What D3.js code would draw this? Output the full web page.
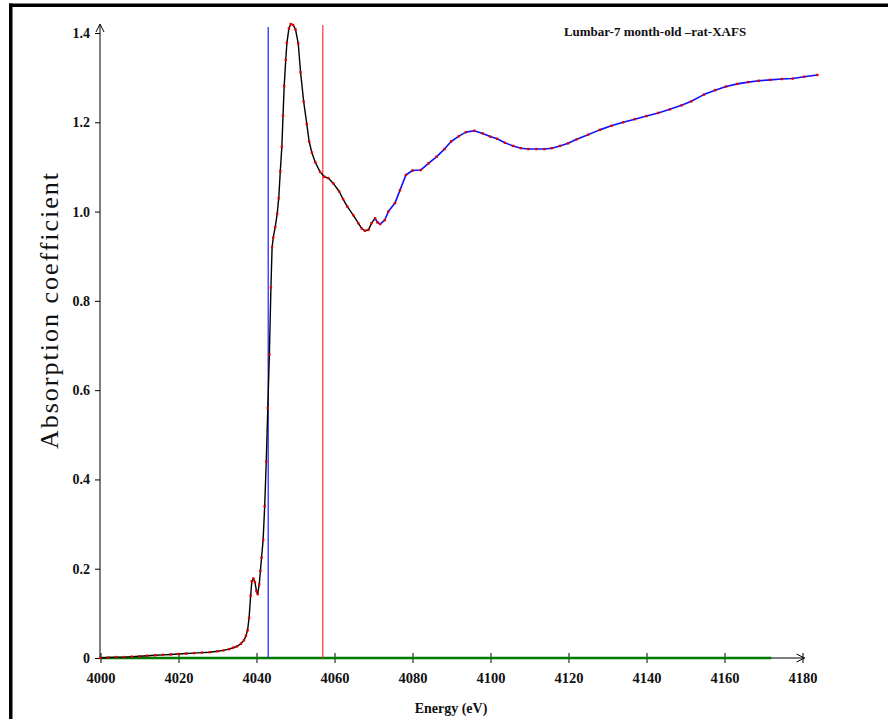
<!DOCTYPE html>
<html lang="en">
<head>
<meta charset="utf-8">
<script src="https://d3js.org/d3.v7.min.js"></script>
<style>
  body { margin: 0; background: #fff; }
  svg text { font-family: "Liberation Serif", "DejaVu Serif", serif; }
</style>
</head>
<body>
<div id="chart"></div>
<script>
// energy (eV) and absorption
var energy = [4000.0, 4002.0, 4004.0, 4006.0, 4008.0, 4010.0, 4012.0, 4014.0, 4016.0, 4018.0,
  4020.0, 4022.0, 4024.0, 4026.0, 4028.0, 4030.0, 4031.5, 4033.0, 4034.0, 4035.0,
  4036.0, 4036.8, 4037.3, 4037.7, 4038.1, 4038.5, 4038.8, 4039.2, 4039.6, 4040.0,
  4040.3, 4040.7, 4041.0, 4041.3, 4041.7, 4042.1, 4042.5, 4042.9, 4043.3, 4043.7,
  4044.0, 4044.3, 4044.8, 4045.3, 4045.7, 4046.1, 4046.5, 4046.8, 4047.1, 4047.5,
  4047.8, 4048.3, 4048.8, 4049.4, 4050.0, 4050.7, 4051.3, 4052.1, 4052.9, 4053.5,
  4054.2, 4055.1, 4056.3, 4057.4, 4058.4, 4059.7, 4061.2, 4062.2, 4063.3, 4064.8,
  4066.1, 4067.0, 4067.8, 4068.7, 4069.5, 4070.4, 4071.0, 4071.7, 4072.9, 4073.8,
  4075.5, 4076.8, 4078.3, 4080.0, 4082.1, 4084.1, 4086.2, 4088.2, 4089.9, 4091.9,
  4093.7, 4095.8, 4098.0, 4099.9, 4101.7, 4103.7, 4105.8, 4107.8, 4109.7, 4111.8,
  4113.8, 4115.7, 4117.8, 4119.9, 4122.1, 4125.0, 4128.0, 4131.0, 4134.0, 4137.0,
  4140.0, 4143.0, 4146.0, 4149.0, 4151.5, 4154.7, 4157.6, 4160.4, 4163.3, 4166.1,
  4168.8, 4171.7, 4174.7, 4177.5, 4180.4, 4183.8];

var mu = [0.000, 0.001, 0.002, 0.002, 0.003, 0.004, 0.005, 0.006, 0.007, 0.008,
  0.009, 0.010, 0.011, 0.012, 0.013, 0.015, 0.017, 0.020, 0.023, 0.026,
  0.032, 0.040, 0.050, 0.062, 0.090, 0.140, 0.172, 0.178, 0.170, 0.150,
  0.143, 0.165, 0.195, 0.225, 0.265, 0.340, 0.440, 0.560, 0.680, 0.830,
  0.920, 0.942, 0.965, 0.995, 1.030, 1.090, 1.145, 1.215, 1.281, 1.340,
  1.378, 1.410, 1.420, 1.418, 1.408, 1.377, 1.312, 1.246, 1.196, 1.157,
  1.132, 1.110, 1.089, 1.078, 1.075, 1.063, 1.045, 1.028, 1.011, 0.992,
  0.974, 0.962, 0.957, 0.959, 0.974, 0.985, 0.976, 0.972, 0.981, 1.000,
  1.019, 1.048, 1.082, 1.092, 1.093, 1.108, 1.123, 1.140, 1.157, 1.169,
  1.178, 1.181, 1.175, 1.168, 1.163, 1.154, 1.147, 1.142, 1.140, 1.140,
  1.140, 1.142, 1.147, 1.153, 1.162, 1.172, 1.183, 1.192, 1.200, 1.207,
  1.214, 1.221, 1.229, 1.238, 1.247, 1.262, 1.272, 1.280, 1.286, 1.290,
  1.293, 1.295, 1.297, 1.298, 1.302, 1.306];

var fitStart = 4070.4;            // blue curve takes over from here
var xTicks = [4000, 4020, 4040, 4060, 4080, 4100, 4120, 4140, 4160, 4180];
var yTicks = [0, 0.2, 0.4, 0.6, 0.8, 1.0, 1.2, 1.4];
var markerBlue = 4043;
var markerRed = 4057;
var baseRange = [4000, 4172];      // green zero line

var title = "Lumbar-7 month-old \u2013rat-XAFS";
var xTitle = "Energy (eV)";
var yTitle = "Absorption coefficient";

var width = 888, height = 719;

var x = d3.scaleLinear().domain([4000, 4180]).range([100.5, 802.5]);
var y = d3.scaleLinear().domain([0, 1.4]).range([658, 33]);

var svg = d3.select("#chart").append("svg")
    .attr("width", width)
    .attr("height", height);

// frame: only the top and left edges show
svg.append("rect").attr("x", 9).attr("y", 3.5).attr("width", width - 9).attr("height", 3.5).attr("fill", "#000");
svg.append("rect").attr("x", 9).attr("y", 3.5).attr("width", 3.5).attr("height", height).attr("fill", "#000");

// x axis, ticks crossing the line
var xAxis = svg.append("g")
    .attr("transform", `translate(0,${y(0)})`)
    .call(d3.axisBottom(x).tickValues(xTicks).tickFormat(d3.format("d")).tickSize(5).tickSizeOuter(0));
xAxis.select(".domain").remove();
xAxis.selectAll(".tick line").attr("y1", -5).attr("y2", 5).attr("stroke", "#000");
xAxis.selectAll(".tick text")
    .attr("y", 15)
    .attr("font-size", 14.5)
    .attr("font-weight", "bold")
    .attr("fill", "#111")
    .style("font-family", "'Liberation Serif', serif");

xAxis.append("line")
    .attr("x1", x(4000)).attr("x2", x(4180) + 2)
    .attr("stroke", "#000");
xAxis.append("path")
    .attr("d", `M${x(4180) - 6},-4L${x(4180) + 2},0L${x(4180) - 6},4`)
    .attr("fill", "none").attr("stroke", "#000");

// y axis with arrow on top
var yAxis = svg.append("g")
    .attr("transform", `translate(${x(4000) - 0.5},0)`)
    .call(d3.axisLeft(y).tickValues(yTicks).tickFormat(d => d === 0 ? "0" : d3.format(".1f")(d)).tickSize(5).tickSizeOuter(0));
yAxis.select(".domain").remove();
yAxis.selectAll(".tick line").attr("stroke", "#000");
yAxis.selectAll(".tick text")
    .attr("x", -10)
    .attr("font-size", 14)
    .attr("font-weight", "bold")
    .attr("fill", "#111")
    .style("font-family", "'Liberation Serif', serif");

yAxis.append("line")
    .attr("y1", y(0)).attr("y2", y(1.4) - 8)
    .attr("stroke", "#000");
yAxis.append("path")
    .attr("d", `M-4,${y(1.4) - 1}L0,${y(1.4) - 9}L4,${y(1.4) - 1}`)
    .attr("fill", "none").attr("stroke", "#000");

// green zero line
svg.append("line")
    .attr("x1", x(baseRange[0])).attr("x2", x(baseRange[1]))
    .attr("y1", y(0)).attr("y2", y(0))
    .attr("stroke", "#007a00").attr("stroke-width", 2.5);

// marker lines
svg.append("line")
    .attr("x1", x(markerBlue)).attr("x2", x(markerBlue))
    .attr("y1", y(1.4) - 6).attr("y2", y(0))
    .attr("stroke", "#1a1aff").attr("stroke-width", 1.2);
svg.append("line")
    .attr("x1", x(markerRed)).attr("x2", x(markerRed))
    .attr("y1", y(1.4) - 8).attr("y2", y(0))
    .attr("stroke", "#ff3030").attr("stroke-width", 1.2);

var pts = energy.map((e, i) => ({e: e, m: mu[i]}));

var line = d3.line()
    .x(d => x(d.e))
    .y(d => y(d.m));

// measured curve (black) then fitted part (blue)
svg.append("path")
    .datum(pts.filter(d => d.e <= fitStart))
    .attr("d", line)
    .attr("fill", "none")
    .attr("stroke", "#000")
    .attr("stroke-width", 1.4)
    .attr("stroke-linejoin", "round");

svg.append("path")
    .datum(pts.filter(d => d.e >= fitStart))
    .attr("d", line)
    .attr("fill", "none")
    .attr("stroke", "#1010ff")
    .attr("stroke-width", 1.6)
    .attr("stroke-linejoin", "round");

svg.append("g")
    .selectAll("rect")
    .data(pts)
    .join("rect")
    .attr("x", d => x(d.e) - 1.2)
    .attr("y", d => y(d.m) - 1.2)
    .attr("width", 2.4)
    .attr("height", 2.4)
    .attr("fill", "#e00000");

// titles
svg.append("text")
    .attr("x", 655).attr("y", 36)
    .attr("text-anchor", "middle")
    .attr("font-size", 13)
    .attr("font-weight", "bold")
    .attr("fill", "#111")
    .text(title);

svg.append("text")
    .attr("x", 451).attr("y", 713)
    .attr("text-anchor", "middle")
    .attr("font-size", 14)
    .attr("font-weight", "bold")
    .attr("fill", "#111")
    .text(xTitle);

svg.append("text")
    .attr("transform", "translate(58,310) rotate(-90)")
    .attr("text-anchor", "middle")
    .attr("font-size", 26)
    .attr("letter-spacing", 2)
    .attr("fill", "#111")
    .text(yTitle);
</script>
</body>
</html>
